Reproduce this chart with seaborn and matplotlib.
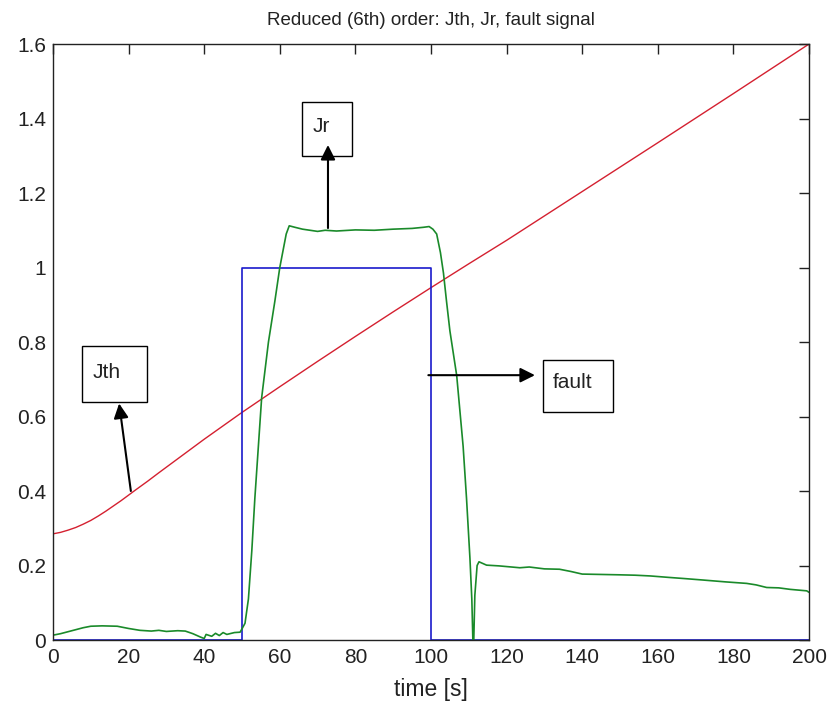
import matplotlib
matplotlib.use("Agg")
import matplotlib.pyplot as plt
import seaborn as sns
from matplotlib.patches import Rectangle

# ---- data ----
t_jth = [0, 2, 4, 6, 8, 10, 12, 14, 16, 18, 20, 22, 25, 28, 32, 36, 40, 45,
         50, 60, 70, 80, 90, 100, 110, 120, 140, 160, 180, 200]
jth = [0.285, 0.289, 0.295, 0.302, 0.311, 0.321, 0.333, 0.346, 0.360, 0.374,
       0.389, 0.404, 0.426, 0.449, 0.479, 0.509, 0.539, 0.575, 0.611, 0.680,
       0.748, 0.815, 0.881, 0.946, 1.010, 1.073, 1.204, 1.335, 1.467, 1.600]

t_jr = [0, 2, 5, 8, 10, 13, 17, 20, 23, 26, 28, 30, 33, 35, 37, 39, 40, 40.5,
        42, 43, 44, 45, 46, 48, 49.5, 50, 50.8, 51.7, 52.6, 53.4, 55.2, 57,
        58.7, 60, 61.7, 62.5, 64, 66, 68, 70, 72, 75, 80, 85, 90, 95, 98,
        99.5, 100.5, 101.5, 102.5, 103.3, 104.1, 105, 106.8, 108.5, 109.4,
        110.3, 110.8, 111.2, 111.6, 112.2, 112.7, 114.7, 118, 123.5, 126, 130,
        134, 137, 140, 145, 150, 154, 158, 163, 167, 172, 178, 183.5, 186,
        188.8, 192, 195, 199.4, 200]
jr = [0.013, 0.017, 0.025, 0.033, 0.037, 0.038, 0.037, 0.031, 0.026, 0.024,
      0.026, 0.023, 0.025, 0.024, 0.017, 0.008, 0.004, 0.015, 0.010, 0.018,
      0.012, 0.020, 0.015, 0.020, 0.021, 0.030, 0.045, 0.11, 0.24, 0.38,
      0.65, 0.80, 0.91, 1.00, 1.09, 1.112, 1.108, 1.103, 1.100, 1.097, 1.100,
      1.098, 1.101, 1.100, 1.103, 1.105, 1.108, 1.110, 1.103, 1.09, 1.04,
      0.985, 0.91, 0.83, 0.71, 0.52, 0.38, 0.22, 0.11, -0.05, 0.12, 0.20,
      0.21, 0.201, 0.199, 0.194, 0.196, 0.191, 0.190, 0.184, 0.177, 0.176,
      0.175, 0.174, 0.172, 0.168, 0.165, 0.161, 0.156, 0.152, 0.148, 0.141,
      0.140, 0.136, 0.132, 0.128]

t_fault = [0, 50, 50, 100, 100, 200]
fault = [0, 0, 1, 1, 0, 0]

x_ticks = [0, 20, 40, 60, 80, 100, 120, 140, 160, 180, 200]
y_ticks = [0, 0.2, 0.4, 0.6, 0.8, 1.0, 1.2, 1.4, 1.6]
y_tick_labels = ["0", "0.2", "0.4", "0.6", "0.8", "1", "1.2", "1.4", "1.6"]

title = "Reduced (6th) order: Jth, Jr, fault signal"
xlabel = "time [s]"

# ---- plot ----
sns.set_style("white")
plt.rcParams["font.family"] = ["Liberation Sans", "DejaVu Sans"]

fig = plt.figure(figsize=(8.33, 7.09), dpi=100)
ax = fig.add_axes([0.0636, 0.0973, 0.9076, 0.8406])

sns.lineplot(x=t_jth, y=jth, ax=ax, color="#d42030", lw=1.0,
             estimator=None, sort=False)
sns.lineplot(x=t_fault, y=fault, ax=ax, color="#1a1acc", lw=1.2,
             estimator=None, sort=False)
sns.lineplot(x=t_jr, y=jr, ax=ax, color="#1a8a2a", lw=1.2,
             estimator=None, sort=False)

ax.set_xlim(0, 200)
ax.set_ylim(0, 1.6)
ax.set_xticks(x_ticks)
ax.set_xticklabels([str(v) for v in x_ticks])
ax.set_yticks(y_ticks)
ax.set_yticklabels(y_tick_labels)
ax.tick_params(direction="in", top=True, right=True, length=7, width=1,
               labelsize=15, color="#222222", labelcolor="#222222")
ax.tick_params(axis="x", pad=6)
ax.tick_params(axis="y", pad=5)
for s in ax.spines.values():
    s.set_visible(True)
    s.set_color("#222222")
    s.set_linewidth(1.0)

ax.set_title(title, fontsize=13.5, pad=14, color="#222222")
ax.set_xlabel(xlabel, fontsize=16.5, labelpad=8, color="#222222")
ax.set_ylabel("")

# ---- annotations (text arrows) ----
arrow_kw = dict(arrowstyle="-|>", color="black", lw=1.5, mutation_scale=22,
                shrinkA=0, shrinkB=0)

def text_box(x0, x1, y0, y1, tx, ty, label):
    ax.add_patch(Rectangle((x0, y0), x1 - x0, y1 - y0, fill=False,
                           edgecolor="black", lw=1.0, zorder=5))
    ax.text(tx, ty, label, fontsize=15, ha="left", va="center",
            color="#222222", zorder=6)

text_box(7.7, 24.9, 0.64, 0.79, 10.6, 0.717, "Jth")
ax.annotate("", xy=(17.5, 0.635), xytext=(20.6, 0.40), arrowprops=arrow_kw)

text_box(65.8, 79.0, 1.30, 1.445, 68.6, 1.378, "Jr")
ax.annotate("", xy=(72.75, 1.329), xytext=(72.75, 1.106), arrowprops=arrow_kw)

text_box(129.5, 148.2, 0.613, 0.752, 132.3, 0.690, "fault")
ax.annotate("", xy=(127.5, 0.711), xytext=(99.3, 0.711), arrowprops=arrow_kw)

fig.savefig("out.png", dpi=100)
